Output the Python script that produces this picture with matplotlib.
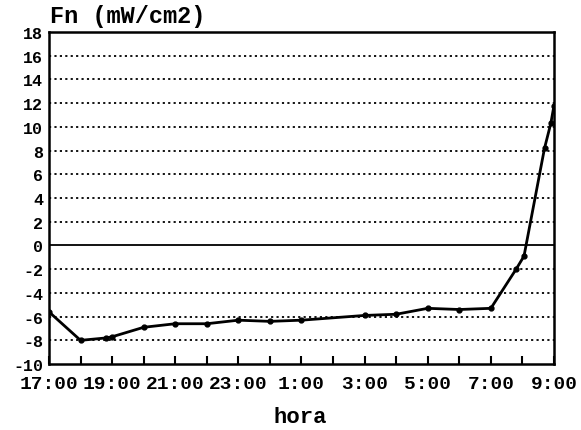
import matplotlib.pyplot as plt
import numpy as np

# hours elapsed since 17:00
horas = [0.0, 1.0, 1.8, 2.0, 3.0, 4.0, 5.0, 6.0, 7.0, 8.0, 10.0, 11.0, 12.0, 13.0, 14.0, 14.8, 15.05, 15.7, 15.9, 16.0]
fn = [-5.6, -8.0, -7.8, -7.7, -6.9, -6.6, -6.6, -6.3, -6.4, -6.3, -5.9, -5.8, -5.3, -5.4, -5.3, -2.0, -0.9, 8.2, 10.3, 11.8]
xtick_labels = ["17:00", "19:00", "21:00", "23:00", "1:00", "3:00", "5:00", "7:00", "9:00"]
yticks = list(range(-10, 19, 2))

font = {"family": "Liberation Mono", "weight": "bold"}

fig = plt.figure(figsize=(5.81, 4.31), dpi=100)
ax = fig.add_axes([0.0843, 0.153, 0.8692, 0.7704])

for y in yticks:
    if y == 0:
        ax.axhline(0, color="black", lw=1.3, zorder=1)
    elif y not in (-10, 18):
        ax.axhline(y, color="black", lw=1.3, ls=(0, (1.2, 1.8)), zorder=1)

ax.plot(horas, fn, color="black", lw=2, marker="o", ms=3.5, zorder=3)

ax.set_xlim(0, 16)
ax.set_ylim(-10, 18)
ax.set_xticks(np.arange(0, 17, 2))
ax.set_xticks(np.arange(0, 17, 1), minor=True)
ax.set_xticklabels(xtick_labels, fontdict=dict(font, size=14))
ax.set_yticks(yticks)
ax.set_yticklabels([str(v) for v in yticks], fontdict=dict(font, size=12))
ax.tick_params(axis="x", which="both", direction="in", length=6, width=1.5, pad=8)
ax.tick_params(axis="y", length=0, pad=4)
for s in ax.spines.values():
    s.set_linewidth(1.8)

fig.text(0.086, 0.962, "Fn (mW/cm2)", fontdict=dict(font, size=17), ha="left", va="center")
fig.text(0.517, 0.032, "hora", fontdict=dict(font, size=16), ha="center", va="center")

fig.savefig("out.png", dpi=100)
